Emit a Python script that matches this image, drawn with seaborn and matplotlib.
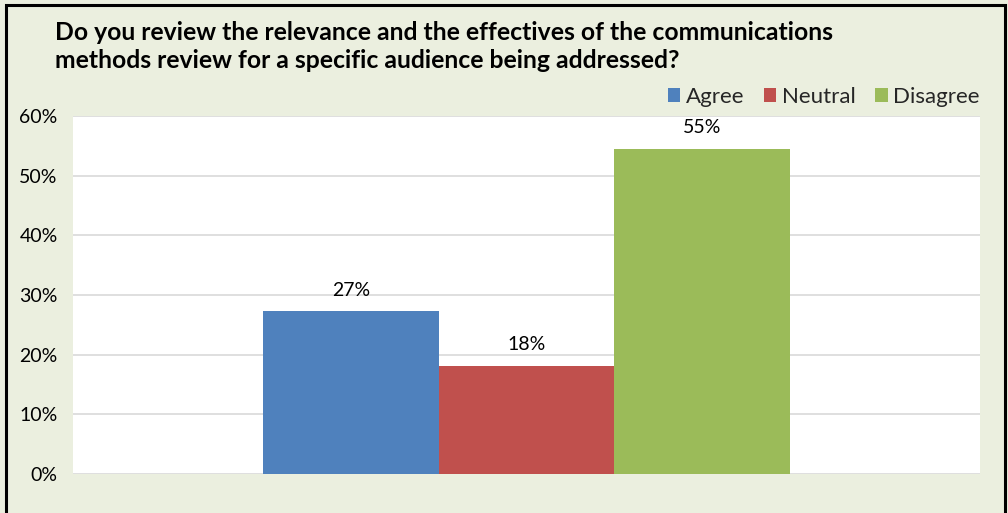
import matplotlib
matplotlib.use("Agg")
import matplotlib.pyplot as plt
from matplotlib.patches import Rectangle
from matplotlib.ticker import PercentFormatter, MultipleLocator
import seaborn as sns
import pandas as pd

# Survey responses (share of respondents)
categories = ["Agree", "Neutral", "Disagree"]
shares = [27.27, 18.18, 54.55]
colors = ["#4F81BD", "#C0504D", "#9BBB59"]
title = ("Do you review the relevance and the effectives of the communications\n"
         "methods review for a specific audience being addressed?")

df = pd.DataFrame({"group": [""] * len(categories),
                   "response": categories,
                   "share": shares})

sns.set_theme(style="white")
plt.rcParams["font.family"] = ["Lato", "DejaVu Sans"]

bg = "#EBEFDF"
fig = plt.figure(figsize=(10.08, 5.13), dpi=100, facecolor=bg)
ax = fig.add_axes([0.0724, 0.076, 0.8998, 0.6979])
ax.set_facecolor("white")

sns.barplot(data=df, x="group", y="share", hue="response",
            hue_order=categories, palette=colors, width=0.58,
            saturation=1, linewidth=0, ax=ax, legend=True)

ax.set_ylim(0, 60)
ax.set_xlim(-0.5, 0.5)
ax.yaxis.set_major_locator(MultipleLocator(10))
ax.yaxis.set_major_formatter(PercentFormatter(decimals=0))
ax.grid(axis="y", color="#D9D9D9", linewidth=1.2)
ax.set_axisbelow(True)
for s in ax.spines.values():
    s.set_visible(False)
ax.set_xlabel("")
ax.set_ylabel("")
ax.set_xticks([])
ax.tick_params(axis="y", labelsize=14, colors="black", pad=11, length=0)

for cont in ax.containers:
    ax.bar_label(cont, fmt="%.0f%%", padding=9, fontsize=14, color="black")

leg = ax.legend(loc="lower right", bbox_to_anchor=(1.012, 0.995), ncol=3,
                frameon=False, fontsize=16, handlelength=0.55, handleheight=0.55,
                handletextpad=0.25, columnspacing=0.9, borderaxespad=0.1)

fig.text(0.0545, 0.96, title, ha="left", va="top", fontsize=17.8,
         fontweight="bold", color="black", linespacing=1.3)

# Chart frame
fig.patches.append(Rectangle((0.006, -0.05), 0.991, 1.04, transform=fig.transFigure,
                             fill=False, edgecolor="black", linewidth=2.2))

fig.savefig("out.png", dpi=100, facecolor=bg)
